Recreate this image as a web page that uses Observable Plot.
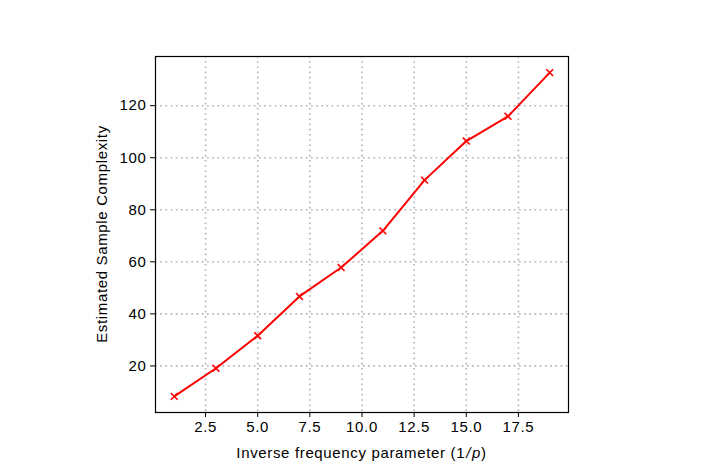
<!DOCTYPE html>
<html>
<head>
<meta charset="utf-8">
<script src="https://cdn.jsdelivr.net/npm/d3@7"></script>
<script src="https://cdn.jsdelivr.net/npm/@observablehq/plot@0.6"></script>
<style>
  html, body { margin: 0; padding: 0; background: #fff; }
  #chart { width: 706px; height: 471px; }
  svg { font-family: "Liberation Sans", Arial, Helvetica, sans-serif; }
</style>
</head>
<body>
<div id="chart"></div>
<script>
const invFreq = [1, 3, 5, 7, 9, 11, 13, 15, 17, 19];
const sampleComplexity = [8.3, 19.1, 31.6, 46.7, 57.8, 71.9, 91.4, 106.4, 115.9, 132.7];
const xTicks = [2.5, 5.0, 7.5, 10.0, 12.5, 15.0, 17.5];
const yTicks = [20, 40, 60, 80, 100, 120];
const xLabel = "Inverse frequency parameter (1";
const xLabelVar = "p";
const yLabel = "Estimated Sample Complexity";

const data = invFreq.map((x, i) => ({x, y: sampleComplexity[i]}));

const W = 706, H = 471;
const mL = 155, mR = 138, mT = 56, mB = 59;
const FS = 15;
const LS = "0.65px";

const plot = Plot.plot({
  width: W,
  height: H,
  marginLeft: mL,
  marginRight: mR,
  marginTop: mT,
  marginBottom: mB,
  style: {fontSize: FS + "px", fontFamily: "'Liberation Sans', Arial, sans-serif", color: "#000", background: "#fff", letterSpacing: LS},
  x: {domain: [0.1, 19.9], label: null},
  y: {domain: [2.1, 138.9], label: null},
  marks: [
    Plot.gridX(xTicks, {stroke: "#b0b0b0", strokeOpacity: 1, strokeWidth: 1.6, strokeDasharray: "1.6,3.6"}),
    Plot.gridY(yTicks, {stroke: "#b0b0b0", strokeOpacity: 1, strokeWidth: 1.6, strokeDasharray: "1.6,3.6"}),
    Plot.axisX(xTicks, {tickSize: 5, tickPadding: 4, tickFormat: d => d.toFixed(1), stroke: "#000", fontSize: FS}),
    Plot.axisY(yTicks, {tickSize: 5, tickPadding: 4, stroke: "#000", fontSize: FS}),
    Plot.line(data, {x: "x", y: "y", stroke: "#ff0000", strokeWidth: 2}),
    Plot.dot(data, {x: "x", y: "y", symbol: "times", r: 3.2, stroke: "#ff0000", strokeWidth: 1.6}),
    Plot.frame({stroke: "#000", strokeWidth: 1.2})
  ]
});

document.getElementById("chart").appendChild(plot);

const svg = d3.select(plot);
const cx = mL + (W - mL - mR) / 2;
const cy = mT + (H - mT - mB) / 2;

const xt = svg.append("text")
  .attr("x", cx)
  .attr("y", 458)
  .attr("text-anchor", "middle")
  .attr("font-size", FS)
  .style("letter-spacing", LS)
  .attr("fill", "#000");
xt.append("tspan").text(xLabel);
xt.append("tspan").attr("font-style", "italic").attr("dx", 1).text("/");
xt.append("tspan").attr("font-style", "italic").attr("dx", 1).text(xLabelVar);
xt.append("tspan").text(")");

svg.append("text")
  .attr("transform", `translate(107,${cy}) rotate(-90)`)
  .attr("text-anchor", "middle")
  .attr("font-size", FS)
  .style("letter-spacing", LS)
  .attr("fill", "#000")
  .text(yLabel);
</script>
</body>
</html>
